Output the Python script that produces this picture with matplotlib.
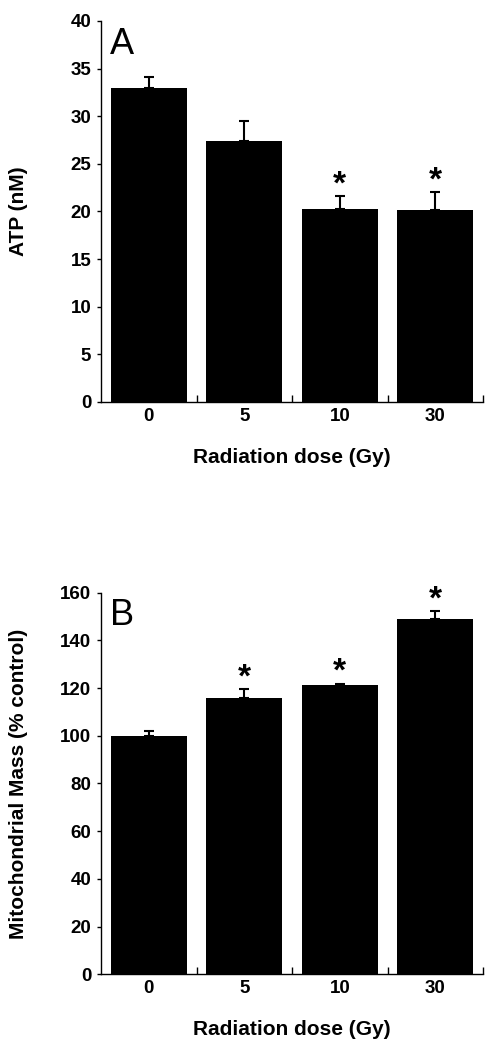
import numpy as np
import matplotlib.pyplot as plt

plt.rcParams['font.family'] = ['Liberation Sans', 'DejaVu Sans']

doses = ['0', '5', '10', '30']
atp = [33.0, 27.4, 20.3, 20.2]
atp_err = [1.15, 2.1, 1.3, 1.85]
atp_sig = [False, False, True, True]
mass = [100.0, 115.7, 121.3, 148.8]
mass_err = [2.0, 3.8, 0.6, 3.4]
mass_sig = [False, True, True, True]


def panel(ax, vals, errs, sig, ymax, ystep, ylabel, letter):
    x = np.arange(len(vals))
    ax.bar(x, vals, width=0.8, color='black', zorder=2)
    ax.errorbar(x, vals, yerr=[np.zeros(len(errs)), errs], fmt='none',
                ecolor='black', elinewidth=1.5, capsize=3.5, capthick=1.5, zorder=1)
    for i in range(len(vals)):
        if sig[i]:
            ax.annotate('*', (x[i], vals[i] + errs[i]), xytext=(0, -3),
                        textcoords='offset points', ha='center', va='bottom',
                        fontsize=24, fontweight='bold')
    ax.set_xlim(-0.5, len(vals) - 0.5)
    ax.set_ylim(0, ymax)
    ax.set_yticks(np.arange(0, ymax + 1, ystep))
    ax.set_xticks(x)
    ax.set_xticklabels(doses)
    ax.set_xticks(np.arange(0.5, len(vals), 1), minor=True)
    ax.tick_params(axis='x', which='major', length=0, pad=4, labelsize=13.5)
    ax.tick_params(axis='x', which='minor', direction='in', length=5, width=1)
    ax.tick_params(axis='y', direction='out', length=3, width=1, pad=4, labelsize=13.5)
    for lab in ax.get_xticklabels() + ax.get_yticklabels():
        lab.set_fontweight('bold')
    ax.spines['top'].set_visible(False)
    ax.spines['right'].set_visible(False)
    ax.spines['left'].set_linewidth(1)
    ax.spines['bottom'].set_linewidth(1)
    ax.set_ylabel(ylabel, fontsize=15, fontweight='bold')
    ax.yaxis.set_label_coords(-0.192, 0.5)
    ax.set_xlabel('Radiation dose (Gy)', fontsize=15, fontweight='bold', labelpad=17)
    ax.text(0.024, 0.985, letter, transform=ax.transAxes, fontsize=26,
            ha='left', va='top')


fig = plt.figure(figsize=(4.93, 10.49), dpi=100)
ax1 = fig.add_axes([0.2049, 0.6168, 0.7749, 0.3632])
ax2 = fig.add_axes([0.2049, 0.0712, 0.7749, 0.3638])

panel(ax1, atp, atp_err, atp_sig, 40, 5, 'ATP (nM)', 'A')
panel(ax2, mass, mass_err, mass_sig, 160, 20, 'Mitochondrial Mass (% control)', 'B')

fig.savefig('out.png', dpi=100)
